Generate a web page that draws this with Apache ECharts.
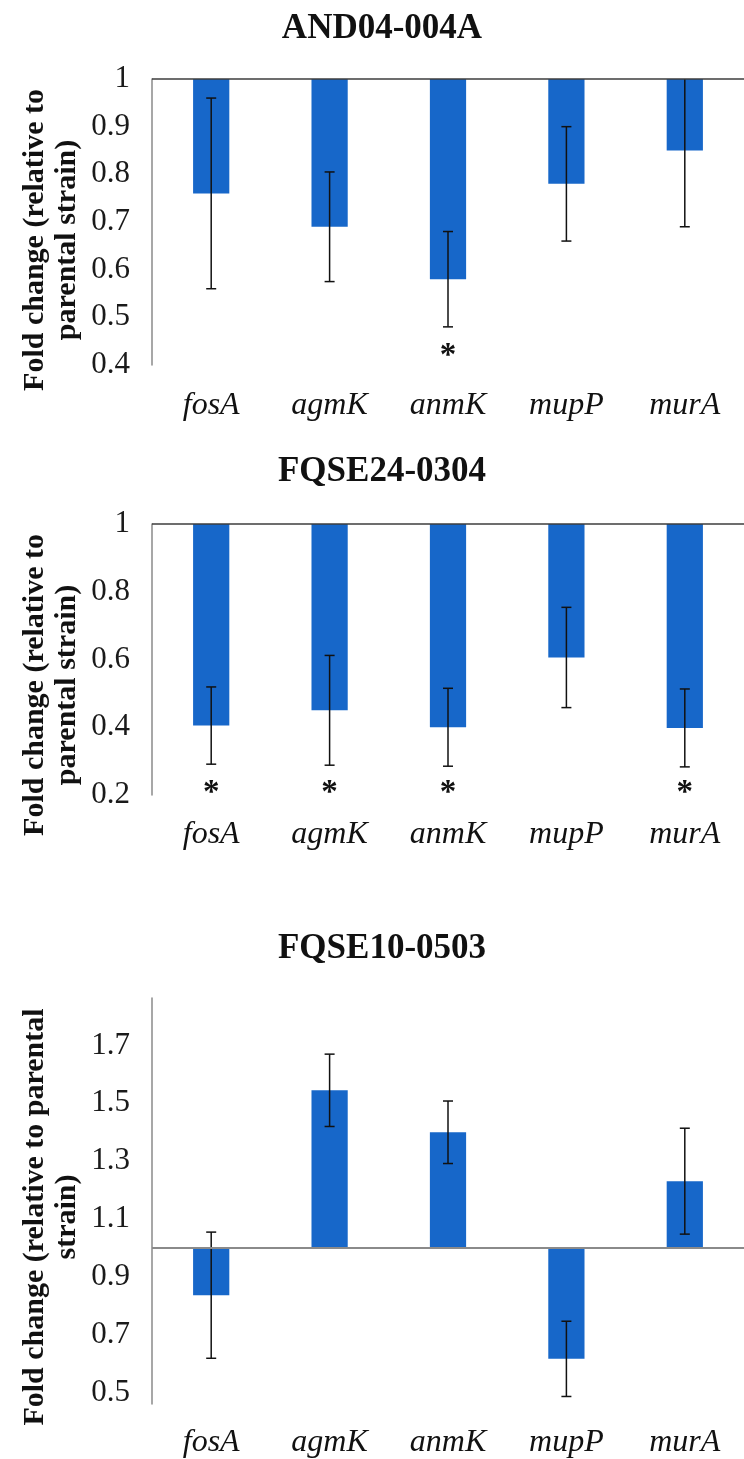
<!DOCTYPE html>
<html><head><meta charset="utf-8">
<script src="https://cdn.jsdelivr.net/npm/echarts@6/dist/echarts.min.js"></script>
<style>html,body{margin:0;padding:0;background:#fff}#c{width:744px;height:1459px}</style>
</head><body><div id="c"></div>
<script>
// ---------- data ----------
const categories = ['fosA', 'agmK', 'anmK', 'mupP', 'murA'];
const titles = ['AND04-004A', 'FQSE24-0304', 'FQSE10-0503'];

// Panel 1: AND04-004A
const and04Mean = [0.76, 0.69, 0.58, 0.78, 0.85];
const and04Err  = [0.20, 0.115, 0.10, 0.12, 0.16];
const and04Sig  = [false, false, true, false, false];
const and04Ticks = [0.4, 0.5, 0.6, 0.7, 0.8, 0.9, 1];

// Panel 2: FQSE24-0304
const fqse24Mean = [0.405, 0.45, 0.40, 0.606, 0.398];
const fqse24Err  = [0.114, 0.162, 0.115, 0.148, 0.115];
const fqse24Sig  = [true, true, true, false, true];
const fqse24Ticks = [0.2, 0.4, 0.6, 0.8, 1];

// Panel 3: FQSE10-0503
const fqse10Mean = [0.837, 1.545, 1.40, 0.617, 1.231];
const fqse10Err  = [0.218, 0.125, 0.108, 0.13, 0.183];
const fqse10Sig  = [false, false, false, false, false];
const fqse10Ticks = [0.5, 0.7, 0.9, 1.1, 1.3, 1.5, 1.7];

const baseline = 1;
const yNames = [
  'Fold change (relative to\nparental strain)',
  'Fold change (relative to\nparental strain)',
  'Fold change (relative to parental\nstrain)'
];

// ---------- layout / style ----------
const FAMILY = 'Liberation Serif';
const BAR_COLOR = '#1767c9';
const panels = [
  {mean: and04Mean, err: and04Err, sig: and04Sig, ticks: and04Ticks, min: 0.4, max: 1,
   top: 79, height: 286, titleY: 29, nameY: 240, starVal: 0.43, lineColor: '#3c3c3c', lineWidth: 1.5, catMargin: 25},
  {mean: fqse24Mean, err: fqse24Err, sig: fqse24Sig, ticks: fqse24Ticks, min: 0.2, max: 1,
   top: 524, height: 271, titleY: 472, nameY: 685, starVal: 0.222, lineColor: '#3c3c3c', lineWidth: 1.5, catMargin: 24},
  {mean: fqse10Mean, err: fqse10Err, sig: fqse10Sig, ticks: fqse10Ticks, min: 0.461, max: 1.864,
   top: 998, height: 409, titleY: 949, nameY: 1217, starVal: 0.5, lineColor: '#8a8a8a', lineWidth: 2, catMargin: 23}
];
const GRID_LEFT = 152, GRID_WIDTH = 604;

function fmt(v) { return String(+(+v).toFixed(2)); }

function barRender(params, api) {
  const i = api.value(0), v = api.value(1);
  const p0 = api.coord([i, baseline]);
  const p1 = api.coord([i, v]);
  const w = api.size([1, 0])[0] * 0.306;
  const cs = params.coordSys;
  const rect = echarts.graphic.clipRectByRect(
    {x: p0[0] - w / 2, y: Math.min(p0[1], p1[1]), width: w, height: Math.abs(p1[1] - p0[1])},
    {x: cs.x, y: cs.y, width: cs.width, height: cs.height});
  return rect ? {type: 'rect', shape: rect, style: {fill: BAR_COLOR}} : null;
}

function errRender(params, api) {
  const i = api.value(0);
  const lo = api.coord([i, api.value(1)]);
  const hi = api.coord([i, api.value(2)]);
  const cs = params.coordSys;
  const x = lo[0];
  const yTop = Math.max(hi[1], cs.y);
  const yBot = Math.min(lo[1], cs.y + cs.height);
  const st = {stroke: '#111', lineWidth: 1.5};
  const cw = 5;
  const children = [{type: 'line', shape: {x1: x, y1: yTop, x2: x, y2: yBot}, style: st}];
  if (hi[1] > cs.y + 1) children.push({type: 'line', shape: {x1: x - cw, y1: hi[1], x2: x + cw, y2: hi[1]}, style: st});
  if (lo[1] <= cs.y + cs.height) children.push({type: 'line', shape: {x1: x - cw, y1: lo[1], x2: x + cw, y2: lo[1]}, style: st});
  return {type: 'group', children};
}

function starRenderFactory(level) {
  return function (params, api) {
    if (!api.value(1)) return null;
    const p = api.coord([api.value(0), level]);
    return {type: 'text', x: p[0], y: p[1] + 6,
      style: {text: '*', fill: '#111', fontFamily: FAMILY, fontWeight: 'bold', fontSize: 33, align: 'center', verticalAlign: 'middle'}};
  };
}

const grid = [], xAxis = [], yAxis = [], series = [], graphic = [];
panels.forEach((p, k) => {
  grid.push({left: GRID_LEFT, top: p.top, width: GRID_WIDTH, height: p.height});
  xAxis.push({type: 'category', gridIndex: k, data: categories, boundaryGap: true,
    axisLine: {show: false}, axisTick: {show: false}, splitLine: {show: false},
    axisLabel: {fontFamily: FAMILY, fontStyle: 'italic', fontSize: 32, color: '#111', margin: p.catMargin}});
  yAxis.push({type: 'value', gridIndex: k, min: p.min, max: p.max,
    axisLine: {show: true, lineStyle: {color: '#8a8a8a', width: 1.5}},
    axisTick: {show: false}, splitLine: {show: false},
    axisLabel: {customValues: p.ticks, formatter: fmt, fontFamily: FAMILY, fontSize: 31, color: '#1a1a1a', margin: 22}});
  series.push({type: 'custom', xAxisIndex: k, yAxisIndex: k, renderItem: barRender,
    data: categories.map((c, i) => [i, p.mean[i]]), encode: {x: 0, y: 1}, silent: true,
    markLine: {silent: true, symbol: ['none', 'none'], label: {show: false},
      lineStyle: {color: p.lineColor, width: p.lineWidth, type: 'solid'}, data: [{yAxis: baseline}]}, z: 2});
  series.push({type: 'custom', xAxisIndex: k, yAxisIndex: k, renderItem: errRender,
    data: categories.map((c, i) => [i, p.mean[i] - p.err[i], p.mean[i] + p.err[i]]),
    encode: {x: 0, y: [1, 2]}, silent: true, z: 3});
  series.push({type: 'custom', xAxisIndex: k, yAxisIndex: k, renderItem: starRenderFactory(p.starVal),
    data: categories.map((c, i) => [i, p.sig[i] ? 1 : 0]), encode: {x: 0}, silent: true, z: 4, clip: false});
  graphic.push({type: 'text', x: 382, y: p.titleY,
    style: {text: titles[k], fontFamily: FAMILY, fontWeight: 'bold', fontSize: 35, fill: '#111', align: 'center', verticalAlign: 'middle'}});
  graphic.push({type: 'text', x: 51, y: p.nameY, rotation: Math.PI / 2,
    style: {text: yNames[k], fontFamily: FAMILY, fontWeight: 'bold', fontSize: 30, fill: '#111', align: 'center', verticalAlign: 'middle', lineHeight: 32}});
});

const chart = echarts.init(document.getElementById('c'), null, {renderer: 'canvas', width: 744, height: 1459});
chart.setOption({backgroundColor: '#fff', animation: false, textStyle: {fontFamily: FAMILY}, grid, xAxis, yAxis, series, graphic});
</script>
</body></html>
